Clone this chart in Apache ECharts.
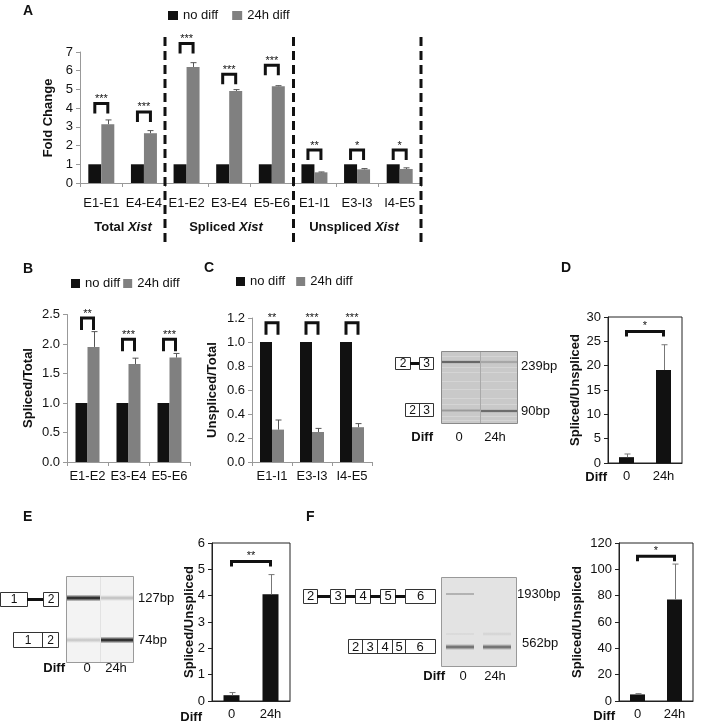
<!DOCTYPE html>
<html><head><meta charset="utf-8">
<script src="https://cdn.jsdelivr.net/npm/echarts@6/dist/echarts.min.js"></script>
<style>html,body{margin:0;padding:0;background:#fff}#c{width:709px;height:728px}</style>
</head><body><div id="c"></div>
<script>
const FONT = '"Liberation Sans", Arial, Helvetica, sans-serif';

// ---------- Panel A ----------
const catsA = ['E1-E1','E4-E4','E1-E2','E3-E4','E5-E6','E1-I1','E3-I3','I4-E5'];
const noDiffA = [1,1,1,1,1,1,1,1];
const diffA = [3.14,2.66,6.2,4.92,5.17,0.57,0.73,0.75];
const errA = [0.23,0.14,0.23,0.07,0.03,0.02,0.04,0.06];
const sigA = ['***','***','***','***','***','**','*','*'];
const sigTopA = [4.25,3.8,7.45,5.81,6.29,1.76,1.76,1.76];
const yTicksA = ['0','1','2','3','4','5','6','7'];
const groupsA = ['Total','Spliced','Unspliced'];

// ---------- Panel B ----------
const catsB = ['E1-E2','E3-E4','E5-E6'];
const noDiffB = [1,1,1];
const diffB = [1.95,1.66,1.77];
const errB = [0.26,0.1,0.07];
const sigB = ['**','***','***'];
const sigTopB = [2.44,2.08,2.08];
const yTicksB = ['0.0','0.5','1.0','1.5','2.0','2.5'];

// ---------- Panel C ----------
const catsC = ['E1-I1','E3-I3','I4-E5'];
const noDiffC = [1,1,1];
const diffC = [0.27,0.25,0.29];
const errC = [0.08,0.03,0.03];
const sigC = ['**','***','***'];
const sigTopC = [1.16,1.16,1.16];
const yTicksC = ['0.0','0.2','0.4','0.6','0.8','1.0','1.2'];

// ---------- Panels D, E, F ----------
const catsDiff = ['0','24h'];
const ratioD = [1.2,19.1];
const errD = [0.65,5.2];
const sigD = '*';
const sigTopD = 27;
const yTicksD = ['0','5','10','15','20','25','30'];

const ratioE = [0.22,4.05];
const errE = [0.1,0.75];
const sigE = '**';
const sigTopE = 5.3;
const yTicksE = ['0','1','2','3','4','5','6'];

const ratioF = [5,77];
const errF = [0.6,27];
const sigF = '*';
const sigTopF = 110;
const yTicksF = ['0','20','40','60','80','100','120'];

const BLACK = '#111', GRAY = '#808080';

function catAxis(gi, data, o) {
  o = o || {};
  const c = o.lineColor || '#999';
  return {type:'category', gridIndex:gi, data:data, boundaryGap:true,
    axisLine:{show:true, lineStyle:{color:c, width:1}},
    axisTick:{show:o.tick !== false, length:4, interval:0, lineStyle:{color:c}},
    axisLabel:{interval:0, margin:o.margin || 8, color:'#111', fontSize:13, fontFamily:FONT},
    splitLine:{show:false}};
}
function valAxis(gi, ticks, o) {
  o = o || {};
  const c = o.lineColor || '#999';
  const mn = +ticks[0], mx = +ticks[ticks.length-1], iv = (+ticks[1]) - (+ticks[0]);
  return {type:'value', gridIndex:gi, min:mn, max:mx, interval:iv,
    axisLine:{show:true, lineStyle:{color:c}},
    axisTick:{show:true, length:4, lineStyle:{color:c}},
    axisLabel:{color:'#111', fontSize:13, fontFamily:FONT, margin:o.margin || 7,
      formatter:function(v, i){ return ticks[i] !== undefined ? ticks[i] : String(v); }},
    splitLine:{show:false}};
}
function barS(gi, name, data, color, bw) {
  return {type:'bar', name:name, xAxisIndex:gi, yAxisIndex:gi, data:data, barWidth:bw, barGap:'0%',
    itemStyle:{color:color}, z:2, silent:true};
}
function errS(gi, vals, errs, bw, side, color) {
  return {type:'custom', xAxisIndex:gi, yAxisIndex:gi, z:3, silent:true, clip:false,
    data: vals.map(function(v,i){ return [i, v, errs[i]]; }),
    renderItem: function(params, api) {
      const i = api.value(0), v = api.value(1), e = api.value(2);
      const a = api.coord([i, v]), b = api.coord([i, v + e]);
      const x = Math.round(a[0] + side * bw / 2) + 0.5;
      return {type:'group', children:[
        {type:'line', shape:{x1:x, y1:a[1], x2:x, y2:b[1]}, style:{stroke:color, lineWidth:1}},
        {type:'line', shape:{x1:x-3, y1:b[1], x2:x+3, y2:b[1]}, style:{stroke:color, lineWidth:1}}
      ]};
    }};
}
// bracket over black/gray pair within a category
function pairSigS(gi, tops, labels, bw, leg) {
  return {type:'custom', xAxisIndex:gi, yAxisIndex:gi, z:4, silent:true, clip:false,
    data: tops.map(function(t,i){ return [i, t]; }),
    renderItem: function(params, api) {
      const p = api.coord([api.value(0), api.value(1)]);
      const x1 = p[0] - bw/2, x2 = p[0] + bw/2, y = p[1];
      return {type:'group', children:[
        {type:'polyline', shape:{points:[[x1,y+leg],[x1,y],[x2,y],[x2,y+leg]]}, style:{stroke:'#111', lineWidth:3, fill:'none'}},
        {type:'text', style:{text:labels[params.dataIndex], x:p[0], y:y+1, align:'center', verticalAlign:'bottom', fontSize:11, fontFamily:FONT, fill:'#111'}}
      ]};
    }};
}
// bracket between two categories
function crossSigS(gi, top, label, leg) {
  return {type:'custom', xAxisIndex:gi, yAxisIndex:gi, z:4, silent:true, clip:false,
    data: [[0, top]],
    renderItem: function(params, api) {
      const a = api.coord([0, api.value(1)]), b = api.coord([1, api.value(1)]);
      const y = a[1];
      return {type:'group', children:[
        {type:'polyline', shape:{points:[[a[0],y+leg],[a[0],y],[b[0],y],[b[0],y+leg]]}, style:{stroke:'#111', lineWidth:3, fill:'none'}},
        {type:'text', style:{text:label, x:(a[0]+b[0])/2, y:y, align:'center', verticalAlign:'bottom', fontSize:11, fontFamily:FONT, fill:'#111'}}
      ]};
    }};
}

// ---------- graphic helpers ----------
function T(x, y, text, o) {
  o = o || {};
  return {type:'text', x:x, y:y, rotation:o.rot || 0, z:20, silent:true,
    style:{text:text, fill:'#111', fontSize:o.size || 13, fontWeight:o.bold ? 'bold' : 'normal',
      fontFamily:FONT, align:o.align || 'left', verticalAlign:'middle'}};
}
function R(x, y, w, h, fill, stroke, lw) {
  return {type:'rect', z:15, silent:true, shape:{x:x, y:y, width:w, height:h},
    style:{fill:fill, stroke:stroke || null, lineWidth:lw || 1}};
}
function L(x1, y1, x2, y2, color, lw, dash) {
  return {type:'line', z:16, silent:true, shape:{x1:x1, y1:y1, x2:x2, y2:y2},
    style:{stroke:color, lineWidth:lw || 1, lineDash:dash || null}};
}
function band(x, y, w, h, color, bg) {
  return {type:'rect', z:16, silent:true, shape:{x:x, y:y - h/2, width:w, height:h},
    style:{fill:{type:'linear', x:0, y:0, x2:0, y2:1, colorStops:[
      {offset:0, color:bg}, {offset:0.5, color:color}, {offset:1, color:bg}]}}};
}
function exonBox(x, y, w, h, label, size) {
  return [R(x+0.5, y+0.5, w, h, '#fff', '#333', 1), T(x + w/2 + 0.5, y + h/2 + 0.5, label, {align:'center', size:size || 12})];
}

const g = [];
// panel letters
g.push(T(23, 11, 'A', {bold:true, size:14}));
g.push(T(23, 269, 'B', {bold:true, size:14}));
g.push(T(204, 268, 'C', {bold:true, size:14}));
g.push(T(561, 268, 'D', {bold:true, size:14}));
g.push(T(23, 517, 'E', {bold:true, size:14}));
g.push(T(306, 517, 'F', {bold:true, size:14}));

// y-axis titles
g.push(T(48, 118, 'Fold Change', {bold:true, rot:Math.PI/2, align:'center'}));
g.push(T(28, 388, 'Spliced/Total', {bold:true, rot:Math.PI/2, align:'center'}));
g.push(T(212, 390, 'Unspliced/Total', {bold:true, rot:Math.PI/2, align:'center'}));
g.push(T(575, 390, 'Spliced/Unspliced', {bold:true, rot:Math.PI/2, align:'center'}));
g.push(T(189, 622, 'Spliced/Unspliced', {bold:true, rot:Math.PI/2, align:'center'}));
g.push(T(577, 622, 'Spliced/Unspliced', {bold:true, rot:Math.PI/2, align:'center'}));

// panel A group labels and dashed separators
const groupX = [123, 226, 354];
groupsA.forEach(function(name, i) {
  g.push({type:'text', x:groupX[i], y:227, z:20, silent:true, style:{
    text:'{b|' + name + ' }{i|Xist}', align:'center', verticalAlign:'middle',
    rich:{b:{fontWeight:'bold', fontSize:13, fontFamily:FONT, fill:'#111'},
          i:{fontWeight:'bold', fontStyle:'italic', fontSize:13, fontFamily:FONT, fill:'#111'}}}});
});
[165, 293.5, 421].forEach(function(x) { g.push(L(x, 37, x, 246, '#111', 3, [9, 5])); });

// ---------- Gel D ----------
g.push(R(441.5, 351.5, 76, 72, '#c9c9c9', '#8a8a8a', 1));
[356, 367, 372, 381, 389, 398, 404, 416, 420].forEach(function(y){ g.push(L(442, y+0.5, 517, y+0.5, 'rgba(255,255,255,0.22)', 1)); });
g.push(L(480.5, 352, 480.5, 423, '#a9a9a9', 1));
g.push(band(442, 362, 38, 3, '#444', '#b0b0b0'));
g.push(band(481, 362, 36, 3, '#9a9a9a', '#c0c0c0'));
g.push(band(442, 410.5, 38, 3, '#9a9a9a', '#c0c0c0'));
g.push(band(481, 411, 36, 3, '#4a4a4a', '#b0b0b0'));
g.push(T(521, 366, '239bp'));
g.push(T(521, 411, '90bp'));
g.push(T(433, 437, 'Diff', {bold:true, align:'right'}));
g.push(T(459, 437, '0', {align:'center'}));
g.push(T(495, 437, '24h', {align:'center'}));
// diagram D
Array.prototype.push.apply(g, exonBox(395, 357, 15, 12, '2'));
g.push(L(410, 363.5, 419, 363.5, '#111', 3));
Array.prototype.push.apply(g, exonBox(419, 357, 14, 12, '3'));
g.push(R(405.5, 403.5, 28, 13, '#fff', '#333', 1));
g.push(L(419.5, 404, 419.5, 416, '#333', 1));
g.push(T(412.5, 410.5, '2', {align:'center', size:12}));
g.push(T(426.5, 410.5, '3', {align:'center', size:12}));
g.push(T(607, 477, 'Diff', {bold:true, align:'right'}));

// ---------- Gel E ----------
g.push(R(66.5, 576.5, 67, 86, '#f3f3f3', '#9a9a9a', 1));
g.push(L(100.5, 577, 100.5, 662, '#e2e2e2', 1));
g.push(band(67, 598, 33, 7, '#111', '#f3f3f3'));
g.push(band(101, 598, 32, 6, '#bdbdbd', '#f3f3f3'));
g.push(band(67, 640, 33, 6, '#c4c4c4', '#f3f3f3'));
g.push(band(101, 640, 32, 7, '#111', '#f3f3f3'));
g.push(T(138, 598, '127bp'));
g.push(T(138, 640, '74bp'));
g.push(T(65, 668, 'Diff', {bold:true, align:'right'}));
g.push(T(87, 668, '0', {align:'center'}));
g.push(T(116, 668, '24h', {align:'center'}));
Array.prototype.push.apply(g, exonBox(0, 592, 27, 14, '1'));
g.push(L(27, 599.5, 43, 599.5, '#111', 3));
Array.prototype.push.apply(g, exonBox(43, 592, 15, 14, '2'));
g.push(R(13.5, 632.5, 45, 15, '#fff', '#333', 1));
g.push(L(42.5, 633, 42.5, 647, '#333', 1));
g.push(T(28, 640.5, '1', {align:'center', size:12}));
g.push(T(50.5, 640.5, '2', {align:'center', size:12}));
g.push(T(202, 717, 'Diff', {bold:true, align:'right'}));

// ---------- Gel F ----------
g.push(R(441.5, 577.5, 75, 89, '#e3e3e3', '#999', 1));
g.push(band(446, 594, 28, 3, '#9a9a9a', '#e3e3e3'));
g.push(band(446, 634, 28, 3, '#d6d6d6', '#e3e3e3'));
g.push(band(483, 634, 28, 4, '#d2d2d2', '#e3e3e3'));
g.push(band(446, 647, 28, 6, '#5f5f5f', '#e3e3e3'));
g.push(band(483, 647, 28, 6, '#5f5f5f', '#e3e3e3'));
g.push(T(517, 594, '1930bp'));
g.push(T(522, 643, '562bp'));
g.push(T(445, 676, 'Diff', {bold:true, align:'right'}));
g.push(T(463, 676, '0', {align:'center'}));
g.push(T(495, 676, '24h', {align:'center'}));
const fx = [[303,14,'2'],[330,15,'3'],[355,15,'4'],[380,15,'5'],[405,30,'6']];
fx.forEach(function(b, i) {
  Array.prototype.push.apply(g, exonBox(b[0], 589, b[1], 14, b[2], 13));
  if (i < fx.length - 1) g.push(L(b[0] + b[1], 596.5, fx[i+1][0], 596.5, '#111', 3));
});
g.push(R(348.5, 639.5, 87, 14, '#fff', '#333', 1));
[362, 377, 392, 405].forEach(function(x){ g.push(L(x+0.5, 640, x+0.5, 653, '#333', 1)); });
[[355.5,'2'],[370,'3'],[385,'4'],[399,'5'],[420,'6']].forEach(function(t){ g.push(T(t[0], 647, t[1], {align:'center'})); });
g.push(T(615, 716, 'Diff', {bold:true, align:'right'}));

const frame = {show:true, borderColor:'#222', borderWidth:1, backgroundColor:'transparent'};
const option = {
  animation:false,
  textStyle:{fontFamily:FONT},
  grid:[
    {left:80, top:52, width:341, height:131, containLabel:false, outerBoundsMode:'none'},
    {left:67, top:314.5, width:123, height:147.5, containLabel:false, outerBoundsMode:'none'},
    {left:252, top:318, width:120, height:144, containLabel:false, outerBoundsMode:'none'},
    Object.assign({left:608, top:317, width:74, height:146, containLabel:false, outerBoundsMode:'none'}, frame),
    Object.assign({left:212, top:543, width:78, height:158, containLabel:false, outerBoundsMode:'none'}, frame),
    Object.assign({left:619, top:543, width:74, height:158, containLabel:false, outerBoundsMode:'none'}, frame)
  ],
  legend:[
    {left:168, top:9, itemWidth:10, itemHeight:9, itemGap:14, icon:'rect', padding:0, data:['no diff','24h diff'],
      textStyle:{fontSize:13, fontFamily:FONT, color:'#111'}, selectedMode:false},
    {left:71, top:277, itemWidth:9, itemHeight:9, itemGap:3, icon:'rect', padding:0, data:['no diff','24h diff'],
      textStyle:{fontSize:13, fontFamily:FONT, color:'#111'}, selectedMode:false},
    {left:236, top:275, itemWidth:9, itemHeight:9, itemGap:11, icon:'rect', padding:0, data:['no diff','24h diff'],
      textStyle:{fontSize:13, fontFamily:FONT, color:'#111'}, selectedMode:false}
  ],
  xAxis:[
    catAxis(0, catsA, {margin:14}),
    catAxis(1, catsB, {margin:8}),
    catAxis(2, catsC, {margin:8}),
    catAxis(3, catsDiff, {lineColor:'#222', tick:false, margin:7}),
    catAxis(4, catsDiff, {lineColor:'#222', tick:false, margin:7}),
    catAxis(5, catsDiff, {lineColor:'#222', tick:false, margin:7})
  ],
  yAxis:[
    valAxis(0, yTicksA),
    valAxis(1, yTicksB),
    valAxis(2, yTicksC),
    valAxis(3, yTicksD, {lineColor:'#222'}),
    valAxis(4, yTicksE, {lineColor:'#222'}),
    valAxis(5, yTicksF, {lineColor:'#222'})
  ],
  series:[
    barS(0, 'no diff', noDiffA, BLACK, 13), barS(0, '24h diff', diffA, GRAY, 13),
    errS(0, diffA, errA, 13, 1, '#555'), pairSigS(0, sigTopA, sigA, 13, 10),
    barS(1, 'no diff', noDiffB, BLACK, 12), barS(1, '24h diff', diffB, GRAY, 12),
    errS(1, diffB, errB, 12, 1, '#555'), pairSigS(1, sigTopB, sigB, 12, 12),
    barS(2, 'no diff', noDiffC, BLACK, 12), barS(2, '24h diff', diffC, GRAY, 12),
    errS(2, diffC, errC, 12, 1, '#555'), pairSigS(2, sigTopC, sigC, 12, 12),
    barS(3, 'ratio D', ratioD, BLACK, 15), errS(3, ratioD, errD, 0, 0, '#777'), crossSigS(3, sigTopD, sigD, 5),
    barS(4, 'ratio E', ratioE, BLACK, 16), errS(4, ratioE, errE, 0, 0, '#777'), crossSigS(4, sigTopE, sigE, 5),
    barS(5, 'ratio F', ratioF, BLACK, 15), errS(5, ratioF, errF, 0, 0, '#777'), crossSigS(5, sigTopF, sigF, 5)
  ],
  graphic:{elements:g}
};
const chart = echarts.init(document.getElementById('c'));
chart.setOption(option);
</script></body></html>
